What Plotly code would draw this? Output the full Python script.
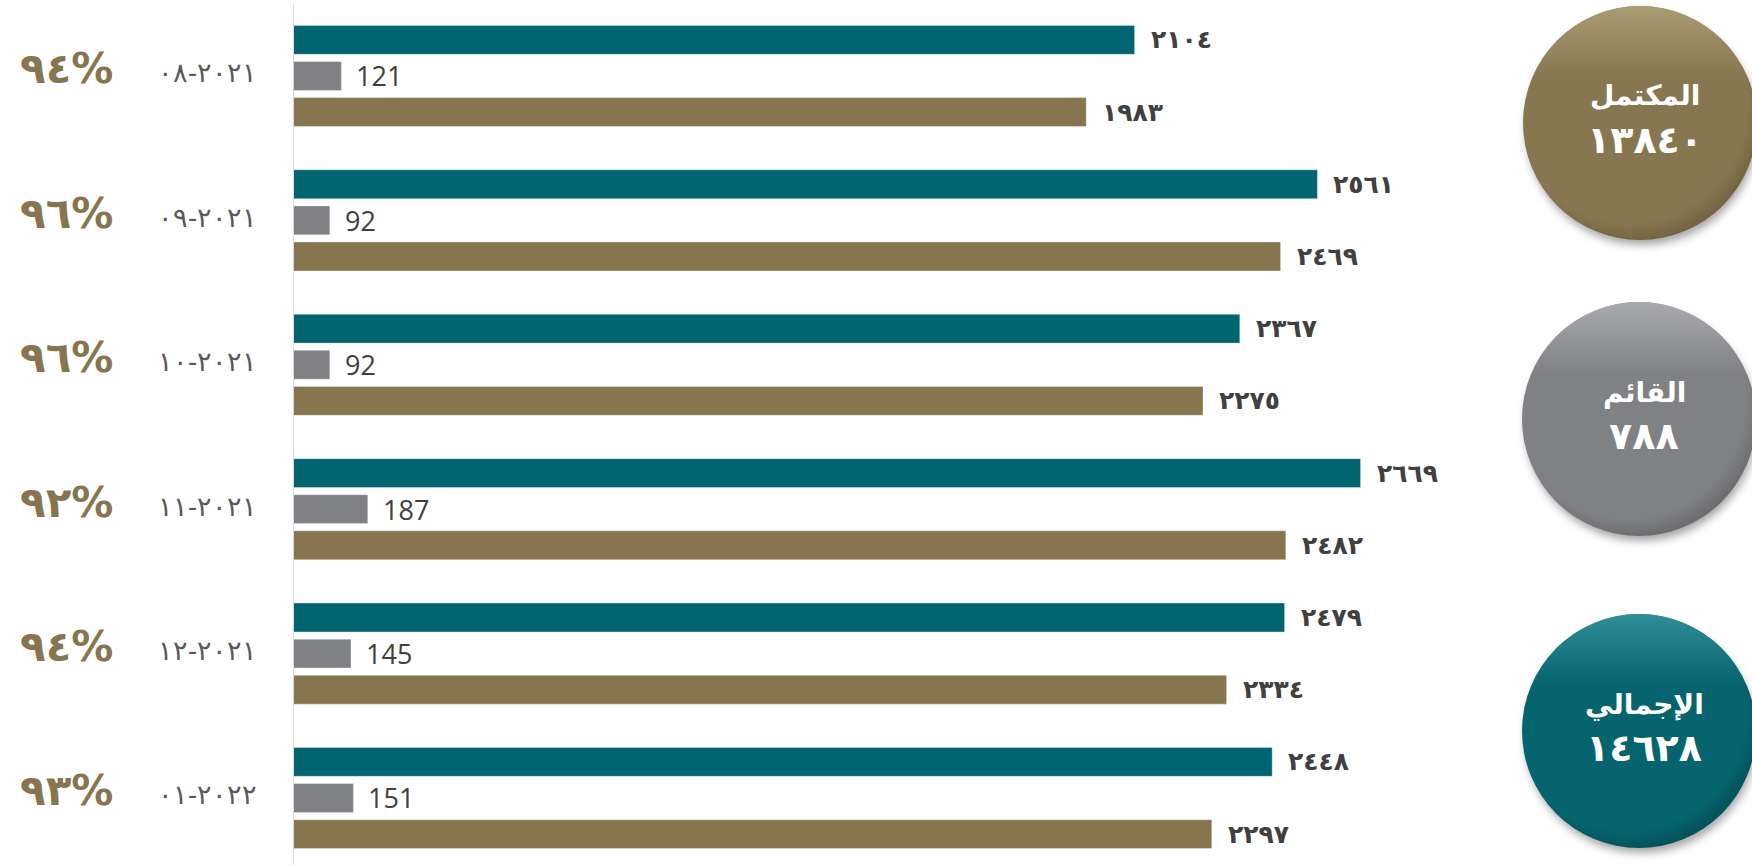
import base64
import plotly.graph_objects as go

# ---------------- data ----------------
months = ["٢٠٢١-٠٨", "٢٠٢١-٠٩", "٢٠٢١-١٠", "٢٠٢١-١١", "٢٠٢١-١٢", "٢٠٢٢-٠١"]
total = [2104, 2561, 2367, 2669, 2479, 2448]        # الإجمالي (teal)
pending = [121, 92, 92, 187, 145, 151]              # القائم (gray)
completed = [1983, 2469, 2275, 2482, 2334, 2297]    # المكتمل (tan)
pct = [94, 96, 96, 92, 94, 93]

name_completed = "المكتمل"
name_pending = "القائم"
name_total = "الإجمالي"

# ---------------- style ----------------
W, H = 1752, 865
TEAL = "#006570"
GRAY = "#808185"
TAN = "#86754E"
LABEL = "#404040"
AR = "DejaVu Sans"

X0 = 293          # pixel of value 0
PX_PER = 0.4      # pixels per unit
x_max = (W - X0) / PX_PER

AR_DIGITS = str.maketrans("0123456789", "٠١٢٣٤٥٦٧٨٩")


def ar(n):
    return str(n).translate(AR_DIGITS)


def px(x):
    return x / W


def py(y):
    return 1 - y / H


n = len(months)
ys = list(range(n))

fig = go.Figure()
for vals, col, nm in [(total, TEAL, name_total), (pending, GRAY, name_pending),
                      (completed, TAN, name_completed)]:
    fig.add_trace(go.Bar(
        y=ys, x=vals, orientation="h", name=nm,
        marker=dict(color=col, line=dict(color="rgba(255,255,255,0.35)", width=1)),
        hoverinfo="x+name", showlegend=False,
    ))

ann = []
for i in range(n):
    # value labels
    ann.append(dict(x=total[i], y=i - 0.25, text=ar(total[i]), xanchor="left",
                    yanchor="middle", xshift=14, showarrow=False,
                    font=dict(family=AR, size=25, color=LABEL, weight="bold")))
    ann.append(dict(x=pending[i], y=i, text=str(pending[i]), xanchor="left",
                    yanchor="middle", xshift=13, showarrow=False,
                    font=dict(family="Open Sans", size=27, color=LABEL)))
    ann.append(dict(x=completed[i], y=i + 0.25, text=ar(completed[i]), xanchor="left",
                    yanchor="middle", xshift=14, showarrow=False,
                    font=dict(family=AR, size=25, color=LABEL, weight="bold")))
    # date labels
    ann.append(dict(x=px(259), xref="paper", y=i, text=months[i], xanchor="right",
                    yanchor="middle", yshift=3, showarrow=False,
                    font=dict(family="DejaVu Serif", size=27, color="#595959")))
    # percent labels
    ann.append(dict(x=px(18), xref="paper", y=i, text=ar(pct[i]) + "%", xanchor="left",
                    yanchor="middle", yshift=7, showarrow=False,
                    font=dict(family=AR, size=42, color=TAN, weight="bold")))


def circle_svg(c_light, c_base, c_dark):
    s = f"""<svg xmlns='http://www.w3.org/2000/svg' width='260' height='260' viewBox='0 0 260 260'>
<defs>
<radialGradient id='g' cx='0.45' cy='0.42' r='0.62'>
<stop offset='0' stop-color='{c_base}'/>
<stop offset='0.82' stop-color='{c_base}'/>
<stop offset='1' stop-color='{c_dark}'/>
</radialGradient>
<linearGradient id='h' x1='0' y1='0' x2='0' y2='1'>
<stop offset='0' stop-color='{c_light}' stop-opacity='0.8'/>
<stop offset='0.3' stop-color='{c_light}' stop-opacity='0'/>
</linearGradient>
<filter id='s' x='-20%' y='-20%' width='140%' height='140%'><feGaussianBlur stdDeviation='4'/></filter>
</defs>
<circle cx='132' cy='135' r='116' fill='rgba(0,0,0,0.35)' filter='url(#s)'/>
<circle cx='130' cy='129' r='117' fill='url(#g)'/>
<circle cx='130' cy='129' r='117' fill='url(#h)'/>
</svg>"""
    return "data:image/svg+xml;base64," + base64.b64encode(s.encode()).decode()


circles = [
    (1640, 123, ("#b3a57a", "#877750", "#6b5d3c"), name_completed, sum(completed)),
    (1639, 419, ("#b4b5b8", "#808184", "#636467"), name_pending, sum(pending)),
    (1639, 731, ("#3a98a2", "#05646d", "#034a51"), name_total, sum(total)),
]
images = []
for cx, cy, cols, label, val in circles:
    images.append(dict(source=circle_svg(*cols), xref="paper", yref="paper",
                       x=px(cx - 130), y=py(cy - 129), sizex=260 / W, sizey=260 / H,
                       xanchor="left", yanchor="top", sizing="stretch", layer="above"))
    ann.append(dict(x=px(cx + 5), y=py(cy - 27), xref="paper", yref="paper", text=label,
                    showarrow=False, xanchor="center", yanchor="middle",
                    font=dict(family=AR, size=28, color="white", weight="bold")))
    ann.append(dict(x=px(cx + 5), y=py(cy + 17), xref="paper", yref="paper", text=ar(val),
                    showarrow=False, xanchor="center", yanchor="middle",
                    font=dict(family=AR, size=38, color="white", weight="bold")))

fig.update_layout(
    width=W, height=H,
    margin=dict(l=0, r=0, t=0, b=0),
    paper_bgcolor="white", plot_bgcolor="white",
    barmode="group", bargap=0.25, bargroupgap=0.2,
    xaxis=dict(domain=[X0 / W, 1], range=[0, x_max], visible=False, fixedrange=True),
    yaxis=dict(range=[5.464, -0.526], showticklabels=False, showgrid=False,
               zeroline=False, ticks="", showline=False, fixedrange=True),
    shapes=[dict(type="line", xref="x", yref="paper", x0=0, x1=0, y0=0, y1=py(4),
                 line=dict(color="#d9d9d9", width=2), layer="above")],
    annotations=ann,
    images=images,
)

fig.write_html("out.html", config={"displayModeBar": False},
               post_script="document.body.style.margin='0';document.body.style.overflow='hidden';")
